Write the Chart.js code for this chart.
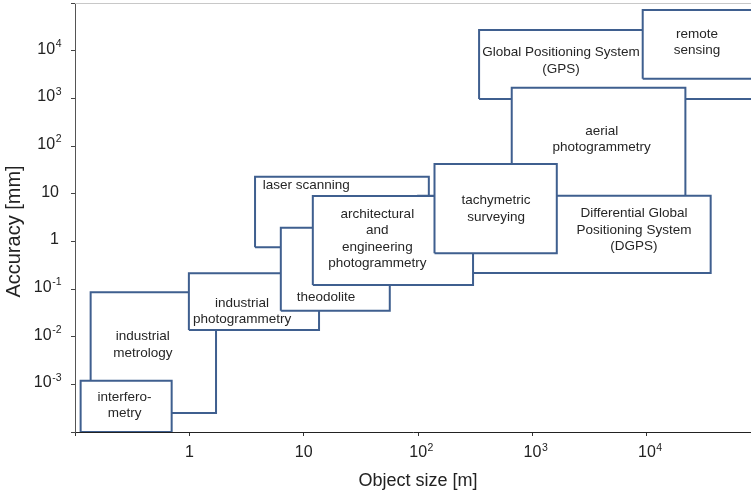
<!DOCTYPE html>
<html><head><meta charset="utf-8">
<script src="https://cdn.jsdelivr.net/npm/chart.js@4.4.1/dist/chart.umd.min.js"></script>
<style>html,body{margin:0;padding:0;background:#fff;}#wrap{width:751px;height:496px;}</style>
</head><body><div id="wrap"><canvas id="c" width="751" height="496"></canvas></div>
<script>
// Techniques in drawing order (bottom layer first)
const techniques = ['industrial metrology','interferometry','industrial photogrammetry','laser scanning','theodolite','GPS','remote sensing','aerial photogrammetry','DGPS','architectural and engineering photogrammetry','tachymetric surveying'];
// Object size range [m]
const sizeMin = [0.137, 0.112, 0.99, 3.75, 6.3, 341, 9190, 658, 100, 12.0, 139];
const sizeMax = [1.71, 0.70, 13.6, 124, 56.5, 1e6, 1e6, 21700, 36100, 302, 1630];
// Accuracy range [mm]
const accMin = [2.5e-4, 1e-4, 0.0138, 0.75, 0.0351, 968, 2580, 2, 0.217, 0.121, 0.561];
const accMax = [0.085, 1.19e-3, 0.214, 22.7, 1.93, 27100, 71300, 1670, 9.07, 8.94, 41.9];
// Label text and anchor (data units)
const labelLines = [['industrial','metrology'],['interfero-','metry'],['industrial','photogrammetry'],['laser scanning'],['theodolite'],['Global Positioning System','(GPS)'],['remote','sensing'],['aerial','photogrammetry'],['Differential Global','Positioning System','(DGPS)'],['architectural','and','engineering','photogrammetry'],['tachymetric','surveying']];
const labelSize = [0.3915, 0.2714, 2.888, 4.38, 15.67, 1775, 27400, 4027, 7710, 44.0, 480];
const labelAcc = [6.79e-3, 3.64e-4, 0.0341, 15.0, 0.0658, 6130, 14840, 136.9, 1.73, 1.13, 4.77];
const labelLeft = [false,false,false,true,false,false,false,false,false,false,false];
// Axis ticks
const xTickValues = [1, 10, 100, 1000, 10000];
const xTickBase = ['1','10','10','10','10'];
const xTickExp = ['','','2','3','4'];
const yTickValues = [1e-3, 1e-2, 1e-1, 1, 10, 100, 1000, 10000];
const yTickBase = ['10','10','10','1','10','10','10','10'];
const yTickExp = ['-3','-2','-1','','','2','3','4'];
const xRange = [0.1, 81300];
const yRange = [1e-4, 1e5];

const FONT = '"Liberation Sans", Arial, Helvetica, sans-serif';
const STROKE = '#3f5f8f';
const N = techniques.length;

const datasets = techniques.map((t, i) => ({
  label: t,
  data: [
    {x: sizeMin[i], y: accMin[i]}, {x: sizeMax[i], y: accMin[i]},
    {x: sizeMax[i], y: accMax[i]}, {x: sizeMin[i], y: accMax[i]},
    {x: sizeMin[i], y: accMin[i]}
  ],
  showLine: true, fill: 'shape', backgroundColor: '#ffffff',
  borderColor: STROKE, borderWidth: 2, pointRadius: 0, pointHoverRadius: 0,
  tension: 0, borderJoinStyle: 'miter', order: N - i
}));

const frame = {
  id: 'frame',
  beforeDatasetsDraw(chart) {
    const {ctx, chartArea: a} = chart;
    ctx.save();
    ctx.strokeStyle = '#c8c8c8'; ctx.lineWidth = 1;
    ctx.beginPath(); ctx.moveTo(a.left, a.top + 0.5); ctx.lineTo(a.right, a.top + 0.5); ctx.stroke();
    ctx.restore();
  }
};

const boxLabels = {
  id: 'boxLabels',
  afterDatasetsDraw(chart) {
    const {ctx, scales: {x, y}} = chart;
    ctx.save();
    ctx.font = '13.5px ' + FONT; ctx.fillStyle = '#262626'; ctx.textBaseline = 'middle';
    techniques.forEach((t, i) => {
      const lines = labelLines[i];
      const px = x.getPixelForValue(labelSize[i]);
      const py = y.getPixelForValue(labelAcc[i]);
      ctx.textAlign = labelLeft[i] ? 'left' : 'center';
      lines.forEach((ln, k) => ctx.fillText(ln, px, py + (k - (lines.length - 1) / 2) * 16.5));
    });
    ctx.restore();
  }
};

const axisText = {
  id: 'axisText',
  afterDraw(chart) {
    const {ctx, chartArea: a, scales: {x, y}} = chart;
    ctx.save();
    ctx.fillStyle = '#222'; ctx.textBaseline = 'middle';
    // x tick labels
    xTickValues.forEach((v, i) => {
      const px = x.getPixelForValue(v);
      const py = a.bottom + 21;
      ctx.font = '16px ' + FONT; ctx.textAlign = 'center';
      ctx.fillText(xTickBase[i], px, py);
      if (xTickExp[i]) {
        const w = ctx.measureText(xTickBase[i]).width;
        ctx.font = '10.5px ' + FONT; ctx.textAlign = 'left';
        ctx.fillText(xTickExp[i], px + w / 2 + 0.5, py - 5);
      }
    });
    // y tick labels
    yTickValues.forEach((v, i) => {
      const py = y.getPixelForValue(v) - 1.5;
      if (yTickExp[i]) {
        const right = a.left - 13.5;
        ctx.font = '10.5px ' + FONT; ctx.textAlign = 'right';
        ctx.fillText(yTickExp[i], right, py - 5);
        const we = ctx.measureText(yTickExp[i]).width;
        ctx.font = '16px ' + FONT;
        ctx.fillText(yTickBase[i], right - we - 0.5, py);
      } else {
        ctx.font = '16px ' + FONT; ctx.textAlign = 'right';
        ctx.fillText(yTickBase[i], a.left - 16, py);
      }
    });
    // axis titles
    ctx.font = '18px ' + FONT; ctx.textAlign = 'center';
    ctx.fillText('Object size [m]', (a.left + a.right) / 2 + 5, a.bottom + 49);
    ctx.save();
    ctx.translate(14, (a.top + a.bottom) / 2 + 14);
    ctx.rotate(-Math.PI / 2);
    ctx.font = '20px ' + FONT;
    ctx.fillText('Accuracy [mm]', 0, 0);
    ctx.restore();
    ctx.restore();
  }
};

new Chart(document.getElementById('c'), {
  type: 'scatter',
  data: {datasets},
  options: {
    responsive: false, animation: false, devicePixelRatio: 1,
    layout: {padding: {top: 3, right: 0, left: 0, bottom: 0}},
    plugins: {legend: {display: false}, tooltip: {enabled: false}, filler: {propagate: false}},
    events: [],
    scales: {
      x: {
        type: 'logarithmic', min: xRange[0], max: xRange[1],
        afterBuildTicks(s) { s.ticks = [xRange[0]].concat(xTickValues).map(v => ({value: v})); },
        afterFit(s) { s.height = 64; },
        ticks: {display: false},
        grid: {drawOnChartArea: false, drawTicks: true, tickLength: 4, color: '#333'},
        border: {display: true, color: '#222', width: 1}
      },
      y: {
        type: 'logarithmic', min: yRange[0], max: yRange[1],
        afterBuildTicks(s) { s.ticks = [yRange[0]].concat(yTickValues, [yRange[1]]).map(v => ({value: v})); },
        afterFit(s) { s.width = 75; },
        ticks: {display: false},
        grid: {drawOnChartArea: false, drawTicks: true, tickLength: 4, color: '#444'},
        border: {display: true, color: '#555', width: 1}
      }
    }
  },
  plugins: [frame, boxLabels, axisText]
});
</script></body></html>
